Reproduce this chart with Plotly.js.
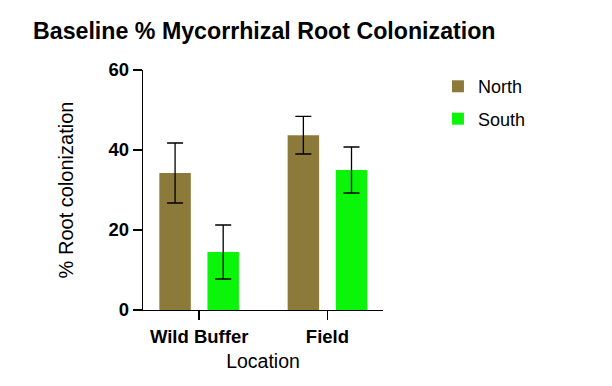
<!DOCTYPE html>
<html>
<head>
<meta charset="utf-8">
<script src="https://cdn.plot.ly/plotly-3.0.1.min.js"></script>
<style>html,body{margin:0;padding:0;background:#fff;}#chart{width:612px;height:386px;}</style>
</head>
<body>
<div id="chart"></div>
<script>
const categories = ["Wild Buffer", "Field"];
const northValues = [34.25, 43.7];
const northErrors = [7.5, 4.7];
const southValues = [14.5, 35.0];
const southErrors = [6.75, 5.75];
const yTickValues = [0, 20, 40, 60];

const font = "Liberation Sans, Arial, sans-serif";

const traces = [
  {
    type: "bar", name: "North", x: categories, y: northValues, legendgroup: "n",
    marker: {color: "#8c7a3a"},
    error_y: {type: "data", array: northErrors, visible: true, color: "#000", thickness: 1.3, width: 8}
  },
  {
    type: "bar", name: "South", x: categories, y: southValues, legendgroup: "s",
    marker: {color: "#0af50a"},
    error_y: {type: "data", array: southErrors, visible: true, color: "#000", thickness: 1.3, width: 8}
  }
];

const layout = {
  width: 612, height: 386,
  margin: {l: 143, r: 229, t: 70, b: 76},
  paper_bgcolor: "#fff", plot_bgcolor: "#fff",
  font: {family: font, color: "#000"},
  title: {text: "<b>Baseline % Mycorrhizal Root Colonization</b>", font: {size: 23.2, family: font, color: "#000"},
          x: 33/612, xanchor: "left", xref: "container", y: 1 - 31/386, yref: "container", yanchor: "middle"},
  barmode: "group", bargap: 0.25, bargroupgap: 0.346,
  xaxis: {
    type: "category", range: [-0.4375, 1.433],
    showline: true, linecolor: "#000", linewidth: 1.3,
    ticks: "outside", ticklen: 9, tickwidth: 1.3, tickcolor: "#000",
    tickfont: {size: 18.5, family: font, weight: "bold"},
    showgrid: false, zeroline: false,
    title: {text: "Location", font: {size: 19.5, family: font}, standoff: 8}
  },
  yaxis: {
    range: [0, 60], tickvals: yTickValues, ticktext: yTickValues.map(String),
    showline: true, linecolor: "#000", linewidth: 1.3,
    ticks: "outside", ticklen: 9, tickwidth: 1.3, tickcolor: "#000",
    tickfont: {size: 18.5, family: font, weight: "bold"},
    showgrid: false, zeroline: false,
    title: {text: "% Root colonization", font: {size: 20, family: font}, standoff: 29}
  },
  legend: {
    x: 1.229, xanchor: "left", y: 1.008, yanchor: "top",
    font: {size: 18, family: font}, tracegroupgap: 6, traceorder: "grouped", itemwidth: 30,
    bgcolor: "rgba(0,0,0,0)"
  },
  showlegend: true
};

Plotly.newPlot("chart", traces, layout, {displayModeBar: false, staticPlot: true});
</script>
</body>
</html>
